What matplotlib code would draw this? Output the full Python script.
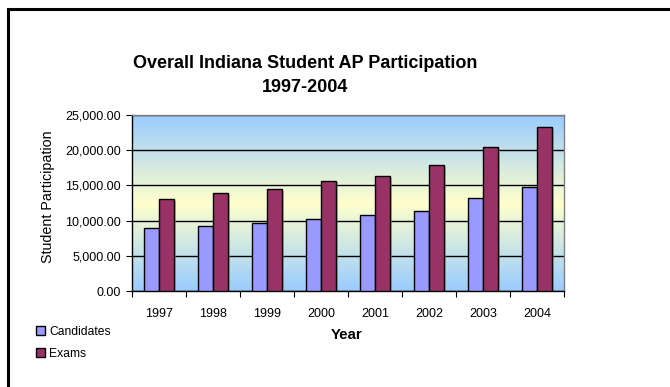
import matplotlib
matplotlib.use("Agg")
import matplotlib.pyplot as plt
import numpy as np
from matplotlib.colors import LinearSegmentedColormap
from matplotlib.patches import Rectangle
from matplotlib.ticker import FuncFormatter, MultipleLocator
import matplotlib.patheffects as pe

plt.rcParams['font.family'] = ['Liberation Sans', 'DejaVu Sans']

years = ["1997", "1998", "1999", "2000", "2001", "2002", "2003", "2004"]
candidates = [8900, 9230, 9610, 10230, 10750, 11360, 13210, 14820]
exams = [13070, 13880, 14490, 15670, 16330, 17850, 20450, 23300]

W, H = 670, 387
fig = plt.figure(figsize=(W / 100, H / 100), dpi=100)
ax = fig.add_axes([132 / W, 1 - 291 / H, 432 / W, 176 / H])

# gradient background
cmap = LinearSegmentedColormap.from_list("bg", ["#99CCFF", "#FFFFCC", "#99CCFF"])
grad = np.linspace(0, 1, 256).reshape(-1, 1)
ax.imshow(grad, cmap=cmap, aspect="auto", extent=[0, 1, 0, 1],
          transform=ax.transAxes, zorder=0, interpolation="bicubic")

x = np.arange(len(years))
bw = 0.28
shadow = [pe.SimplePatchShadow(offset=(1.2, -1.2), shadow_rgbFace="#808080", alpha=0.5),
          pe.Normal()]
b1 = ax.bar(x - bw / 2, candidates, bw, color="#9999FF", edgecolor="black",
            linewidth=1.0, zorder=3, label="Candidates")
b2 = ax.bar(x + bw / 2, exams, bw, color="#993366", edgecolor="black",
            linewidth=1.0, zorder=3, label="Exams")
for p in list(b1) + list(b2):
    p.set_path_effects(shadow)

ax.set_xlim(-0.5, len(years) - 0.5)
ax.set_ylim(0, 25000)
ax.yaxis.set_major_locator(MultipleLocator(5000))
ax.yaxis.set_major_formatter(FuncFormatter(lambda v, p: f"{v:,.2f}"))
ax.grid(axis="y", color="black", linewidth=1.0, zorder=1)
ax.set_axisbelow(True)

ax.set_xticks(np.arange(-0.5, len(years), 1.0))
ax.set_xticklabels([])
ax.set_xticks(x, minor=True)
ax.set_xticklabels(years, minor=True)
ax.tick_params(axis="x", which="major", direction="out", length=4, color="black")
ax.tick_params(axis="x", which="minor", length=0, pad=12, labelsize=9)
ax.tick_params(axis="y", direction="out", length=4, labelsize=9, pad=4)

for s in ["left", "bottom"]:
    ax.spines[s].set_color("black")
    ax.spines[s].set_linewidth(1.0)
for s in ["top", "right"]:
    ax.spines[s].set_color("#808080")
    ax.spines[s].set_linewidth(1.0)

fig.text(48 / W, 1 - 197 / H, "Student Participation", ha="center", va="center",
         rotation=90, fontsize=10.3)
fig.text(347 / W, 1 - 335 / H, "Year", ha="center", va="center",
         fontsize=10.8, fontweight="bold")

fig.text(305 / W, 1 - 63 / H, "Overall Indiana Student AP Participation",
         ha="center", va="center", fontsize=13, fontweight="bold")
fig.text(305 / W, 1 - 88 / H, "1997-2004",
         ha="center", va="center", fontsize=13, fontweight="bold")

# legend
leg = fig.legend(loc="upper left", bbox_to_anchor=(30 / W, 1 - 320 / H),
                 frameon=False, fontsize=8.7, handlelength=0.75, handleheight=0.75,
                 handletextpad=0.35, labelspacing=0.8, borderpad=0)
for h in leg.legend_handles:
    h.set_path_effects([])

# chart border
fig.patches.append(Rectangle((8 / W, -0.1), 1.2, (1 - 9 / H) + 0.1,
                             transform=fig.transFigure, fill=False,
                             edgecolor="black", linewidth=2.2))

fig.savefig("out.png", dpi=100)
